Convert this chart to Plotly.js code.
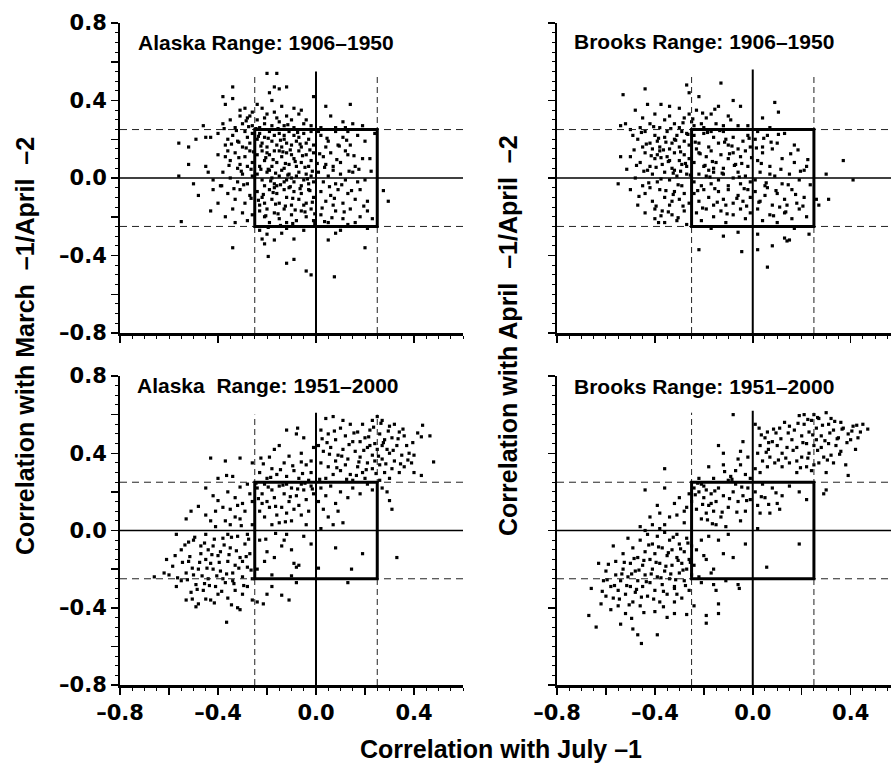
<!DOCTYPE html>
<html>
<head>
<meta charset="utf-8">
<script src="https://cdn.plot.ly/plotly-3.0.1.min.js"></script>
<style>html,body{margin:0;padding:0;background:#fff;}#chart{width:891px;height:765px;}</style>
</head>
<body>
<div id="chart"></div>
<script>
// ---------- DATA ----------
const panelTitles = ['Alaska Range: 1906–1950', 'Brooks Range: 1906–1950', 'Alaska  Range: 1951–2000', 'Brooks Range: 1951–2000'];
const xAxisTitle = 'Correlation with July –1';
const yTitleLeft = 'Correlation with March  –1/April  –2';
const yTitleRight = 'Correlation with April  –1/April  –2';
const yTickVals = [-0.8, -0.6, -0.4, -0.2, 0, 0.2, 0.4, 0.6, 0.8];
const yTickText = ['–0.8', '', '–0.4', '', '0.0', '', '0.4', '', '0.8'];
const xTickVals = [-0.8, -0.6, -0.4, -0.2, 0, 0.2, 0.4];
const xTickText = ['–0.8', '', '–0.4', '', '0.0', '', '0.4'];

const alaska1906 = [
[-0.20,0.54],[-0.16,0.54],[-0.34,0.47],[-0.17,0.47],[-0.15,0.46],[-0.12,0.47],[-0.19,0.44],
[-0.01,0.42],[-0.38,0.42],[-0.34,0.41],[0.14,0.38],[0.04,0.37],[-0.37,0.38],[-0.29,0.36],[-0.18,0.40],[-0.14,0.37],[-0.09,0.36],[-0.24,0.38],[-0.31,0.35],[-0.22,0.36],[-0.06,0.35],
[-0.26,0.34],[-0.20,0.33],[-0.31,0.32],[-0.17,0.34],[-0.07,0.33],[0.06,0.32],[-0.35,0.30],[-0.28,0.31],[-0.12,0.32],[-0.04,0.30],[0.11,0.29],[-0.24,0.30],[-0.21,0.31],[-0.15,0.29],[-0.10,0.30],[-0.30,0.28],[-0.26,0.27],[-0.21,0.28],[-0.05,0.28],[0.15,0.28],[0.19,0.27],[-0.46,0.27],[-0.33,0.26],[-0.18,0.27],[-0.13,0.27],[0.02,0.26],[0.08,0.26],[-0.09,0.26],[-0.02,0.27],[0.12,0.26],[-0.38,0.28],[-0.23,0.26],[-0.16,0.31],[-0.27,0.32],
[-0.56,0.18],[-0.52,0.16],[-0.49,0.20],[-0.45,0.21],[-0.43,0.21],[-0.40,0.23],[-0.37,0.17],[-0.34,0.22],[-0.32,0.19],[-0.30,0.16],[-0.28,0.21],[-0.27,0.18],[-0.36,0.20],[-0.29,0.24],[-0.26,0.23],
[-0.23,0.23],[-0.21,0.21],[-0.19,0.24],[-0.17,0.22],[-0.15,0.23],[-0.13,0.20],[-0.11,0.24],[-0.09,0.22],[-0.07,0.21],[-0.05,0.23],[-0.03,0.20],[-0.02,0.24],[-0.22,0.18],[-0.20,0.16],[-0.18,0.19],[-0.16,0.17],[-0.14,0.16],[-0.12,0.18],[-0.10,0.17],[-0.08,0.19],[-0.06,0.16],[-0.04,0.18],[-0.01,0.17],[-0.24,0.20],[-0.13,0.22],
[0.02,0.22],[0.05,0.19],[0.08,0.24],[0.11,0.21],[0.14,0.17],[0.17,0.22],[0.20,0.19],[0.04,0.16],[0.09,0.17],[0.01,0.24],[0.13,0.24],[0.24,0.23],
[-0.52,0.07],[-0.45,0.06],[-0.40,0.12],[-0.37,0.11],[-0.35,0.09],[-0.33,0.13],[-0.31,0.07],[-0.29,0.11],[-0.27,0.14],[-0.26,0.08],[-0.32,0.05],[-0.28,0.06],[-0.36,0.14],
[-0.24,0.12],[-0.22,0.14],[-0.21,0.09],[-0.19,0.12],[-0.17,0.14],[-0.16,0.08],[-0.14,0.11],[-0.12,0.13],[-0.11,0.07],[-0.09,0.10],[-0.07,0.14],[-0.06,0.08],[-0.04,0.12],[-0.02,0.09],[-0.01,0.13],[-0.23,0.06],[-0.18,0.06],[-0.13,0.05],[-0.08,0.06],[-0.03,0.06],[-0.20,0.13],[-0.15,0.14],[-0.10,0.12],
[0.03,0.11],[0.06,0.13],[0.10,0.08],[0.13,0.12],[0.16,0.06],[0.19,0.10],[0.22,0.10],[0.07,0.06],[0.04,0.07],[0.12,0.14],
[-0.56,0.01],[-0.50,-0.03],[-0.42,-0.01],[-0.38,0.03],[-0.35,0.00],[-0.32,-0.02],[-0.30,0.02],[-0.28,-0.03],[-0.26,0.01],[-0.39,-0.04],[-0.44,0.03],
[-0.24,0.02],[-0.22,-0.01],[-0.20,0.03],[-0.18,0.00],[-0.17,-0.03],[-0.15,0.01],[-0.14,0.04],[-0.12,-0.01],[-0.11,0.02],[-0.09,-0.02],[-0.08,0.01],[-0.07,0.03],[-0.05,-0.01],[-0.04,0.02],[-0.03,-0.03],[-0.02,0.01],[-0.01,-0.02],[-0.21,-0.04],[-0.16,-0.04],[-0.13,-0.02],[-0.10,0.00],[-0.06,-0.04],[-0.19,0.04],
[0.01,0.03],[0.03,-0.02],[0.05,0.01],[0.08,-0.03],[0.10,0.02],[0.12,-0.01],[0.15,0.03],[0.17,-0.02],[0.20,-0.01],[0.07,0.04],[0.275,-0.065],
[-0.48,-0.09],[-0.42,-0.06],[-0.385,-0.04],[-0.36,-0.08],[-0.33,-0.11],[-0.31,-0.06],[-0.29,-0.13],[-0.27,-0.09],[-0.40,-0.13],
[-0.24,-0.07],[-0.22,-0.10],[-0.21,-0.13],[-0.19,-0.06],[-0.18,-0.11],[-0.16,-0.08],[-0.15,-0.13],[-0.13,-0.06],[-0.12,-0.10],[-0.10,-0.14],[-0.09,-0.07],[-0.07,-0.11],[-0.06,-0.08],[-0.04,-0.13],[-0.03,-0.06],[-0.01,-0.10],[-0.23,-0.14],[-0.17,-0.05],[-0.11,-0.05],[-0.05,-0.14],
[0.02,-0.07],[0.04,-0.12],[0.06,-0.09],[0.09,-0.06],[0.11,-0.13],[0.13,-0.08],[0.16,-0.11],[0.18,-0.06],[0.21,-0.12],[0.07,-0.14],[0.295,-0.12],
[-0.43,-0.17],[-0.55,-0.225],[-0.37,-0.20],[-0.34,-0.16],[-0.30,-0.18],[-0.28,-0.22],[-0.26,-0.19],[-0.33,-0.23],
[-0.23,-0.17],[-0.21,-0.20],[-0.19,-0.23],[-0.17,-0.18],[-0.15,-0.21],[-0.13,-0.16],[-0.12,-0.23],[-0.10,-0.19],[-0.08,-0.22],[-0.06,-0.17],[-0.04,-0.20],[-0.02,-0.16],[-0.01,-0.22],[-0.20,-0.16],
[0.02,-0.19],[0.05,-0.23],[0.08,-0.17],[0.11,-0.21],[0.14,-0.16],[0.16,-0.23],[0.18,-0.20],[0.21,-0.17],[0.23,-0.21],[0.13,-0.24],
[-0.23,-0.27],[-0.20,-0.29],[-0.17,-0.32],[-0.21,-0.34],[-0.22,-0.315],[-0.14,-0.285],[-0.09,-0.315],[0.05,-0.32],[0.08,-0.285],[-0.34,-0.36],[-0.195,-0.405],[-0.12,-0.44],[-0.09,-0.42],[-0.04,-0.48],[-0.02,-0.50],[0.075,-0.51],[0.20,-0.36],[-0.12,-0.26],[0.21,-0.26],[-0.05,-0.27],[0.10,-0.27],
[-0.235,0.215],[-0.225,0.165],[-0.205,0.105],[-0.195,0.045],[-0.185,-0.015],[-0.175,-0.075],[-0.165,-0.135],[-0.155,-0.185],[-0.145,0.195],[-0.135,0.135],[-0.125,0.075],[-0.115,0.015],[-0.105,-0.045],[-0.095,-0.105],[-0.085,-0.165],[-0.075,0.235],[-0.065,0.175],[-0.055,0.115],[-0.045,0.055],[-0.035,-0.005],[-0.025,-0.065],[-0.015,-0.125],[-0.005,-0.185],[-0.225,0.045],[-0.215,-0.085],[-0.205,-0.195],[-0.195,0.205],[-0.175,0.095],[-0.165,0.025],[-0.145,-0.035],[-0.125,-0.145],[-0.105,0.145],[-0.085,0.085],[-0.065,-0.055],[-0.045,-0.175],[-0.025,0.145],[-0.015,0.035],[-0.235,-0.115],[-0.155,0.255],[-0.115,0.275],
[-0.345,0.175],[-0.325,0.245],[-0.315,0.105],[-0.305,0.035],[-0.295,-0.035],[-0.285,0.155],[-0.275,0.265],[-0.265,-0.105],[-0.335,-0.055],[-0.355,0.065],[-0.375,0.255],[-0.255,0.135],[-0.265,0.045],[-0.285,0.295],[-0.315,0.185],
[0.015,0.125],[0.035,0.055],[0.055,-0.045],[0.075,-0.105],[0.095,0.165],[0.115,-0.175],[0.135,0.035],[0.155,0.115],[0.025,-0.155],[0.045,0.205],[0.065,-0.205],[0.085,0.095],[0.105,-0.035],[0.125,0.195],[0.145,-0.065],[0.175,0.045],[0.195,-0.145],[0.225,0.035],[0.035,-0.225],[0.005,0.075],[-0.005,-0.235],[-0.095,-0.235],[-0.145,-0.245],[-0.195,-0.255],[-0.245,0.255]
];

const brooks1906 = [
[-0.53,0.43],[-0.44,0.46],[-0.27,0.48],[-0.13,0.49],[-0.26,0.44],[-0.22,0.42],[-0.43,0.38],[-0.375,0.38],[-0.34,0.37],[-0.30,0.36],[-0.14,0.37],[-0.08,0.40],[-0.05,0.37],[0.09,0.39],[0.105,0.34],[0.04,0.31],[-0.23,0.35],[-0.19,0.31],[-0.10,0.32],[-0.09,0.30],[-0.48,0.35],[-0.45,0.31],[-0.54,0.27],[-0.52,0.28],[-0.40,0.33],[-0.36,0.30],[-0.32,0.28],[-0.28,0.31],[-0.25,0.29],[-0.21,0.28],[-0.17,0.33],[-0.15,0.28],[-0.12,0.27],[-0.06,0.27],[-0.42,0.28],[-0.38,0.26],[-0.30,0.26],[-0.26,0.33],[-0.20,0.26],[-0.02,0.27],[0.07,0.26],[-0.34,0.32],[-0.24,0.27],[-0.46,0.26],[-0.50,0.25],
[-0.49,0.22],[-0.47,0.20],[-0.44,0.24],[-0.42,0.18],[-0.40,0.22],[-0.38,0.16],[-0.36,0.21],[-0.35,0.24],[-0.33,0.18],[-0.31,0.22],[-0.30,0.16],[-0.28,0.19],[-0.27,0.23],[-0.26,0.17],[-0.45,0.16],[-0.41,0.15],[-0.34,0.15],[-0.29,0.24],[-0.39,0.19],[-0.32,0.20],
[-0.24,0.22],[-0.22,0.18],[-0.20,0.23],[-0.18,0.16],[-0.16,0.21],[-0.14,0.18],[-0.12,0.24],[-0.10,0.17],[-0.08,0.21],[-0.06,0.15],[-0.04,0.19],[-0.02,0.22],[-0.01,0.16],[-0.23,0.15],[-0.17,0.24],[-0.11,0.20],
[0.01,0.20],[0.04,0.16],[0.06,0.22],[0.10,0.18],[0.13,0.23],[0.17,0.17],[0.02,0.24],[0.08,0.15],
[-0.54,0.11],[-0.50,0.11],[-0.46,0.08],[-0.44,0.13],[-0.42,0.06],[-0.40,0.10],[-0.38,0.14],[-0.37,0.07],[-0.35,0.11],[-0.33,0.05],[-0.32,0.13],[-0.30,0.09],[-0.28,0.12],[-0.27,0.06],[-0.26,0.10],[-0.39,0.12],[-0.34,0.09],[-0.29,0.07],
[-0.24,0.08],[-0.22,0.13],[-0.20,0.06],[-0.19,0.11],[-0.17,0.14],[-0.15,0.08],[-0.13,0.12],[-0.12,0.05],[-0.10,0.10],[-0.08,0.13],[-0.07,0.07],[-0.05,0.11],[-0.03,0.14],[-0.02,0.06],[-0.16,0.05],
[0.02,0.09],[0.04,0.13],[0.07,0.06],[0.12,0.10],[0.17,0.08],[0.22,0.06],[0.21,0.04],[0.37,0.09],
[-0.55,-0.03],[-0.48,0.00],[-0.45,-0.04],[-0.41,0.02],[-0.39,-0.02],[-0.36,0.03],[-0.34,-0.01],[-0.31,0.01],[-0.29,-0.04],[-0.27,0.02],[-0.43,0.04],[-0.32,0.04],
[-0.24,-0.02],[-0.22,0.02],[-0.21,-0.04],[-0.19,0.01],[-0.17,-0.03],[-0.16,0.03],[-0.14,-0.01],[-0.12,0.02],[-0.10,-0.04],[-0.08,0.00],[-0.06,0.03],[-0.05,-0.03],[-0.03,0.01],[-0.01,-0.02],[-0.18,0.04],
[0.01,-0.01],[0.03,0.03],[0.05,-0.04],[0.09,0.01],[0.12,-0.03],[0.15,0.02],[0.19,-0.01],[0.07,0.02],[0.30,0.02],[0.41,-0.01],
[-0.50,-0.06],[-0.47,-0.14],[-0.44,-0.08],[-0.41,-0.12],[-0.38,-0.06],[-0.36,-0.10],[-0.34,-0.14],[-0.32,-0.07],[-0.30,-0.11],[-0.28,-0.08],[-0.26,-0.13],[-0.42,-0.05],[-0.33,-0.12],
[-0.24,-0.08],[-0.22,-0.12],[-0.20,-0.06],[-0.18,-0.10],[-0.16,-0.14],[-0.14,-0.07],[-0.12,-0.11],[-0.10,-0.06],[-0.08,-0.13],[-0.06,-0.09],[-0.04,-0.12],[-0.02,-0.06],[-0.01,-0.10],[-0.11,-0.14],
[0.01,-0.07],[0.03,-0.12],[0.05,-0.09],[0.08,-0.14],[0.10,-0.08],[0.13,-0.11],[0.16,-0.06],[0.18,-0.13],[0.21,-0.10],[0.06,-0.05],[0.14,-0.14],[0.26,-0.11],[0.31,-0.11],[0.27,-0.14],
[-0.44,-0.18],[-0.40,-0.21],[-0.385,-0.23],[-0.36,-0.23],[-0.37,-0.17],[-0.33,-0.19],[-0.31,-0.22],[-0.28,-0.17],[-0.27,-0.24],[-0.40,-0.16],
[-0.23,-0.18],[-0.21,-0.22],[-0.19,-0.16],[-0.16,-0.20],[-0.13,-0.17],[-0.11,-0.23],[-0.08,-0.19],[-0.05,-0.16],[-0.03,-0.21],[-0.01,-0.18],
[0.02,-0.16],[0.04,-0.22],[0.07,-0.19],[0.10,-0.23],[0.13,-0.18],[0.16,-0.21],[0.19,-0.16],[0.22,-0.20],[0.11,-0.15],
[-0.12,-0.30],[-0.06,-0.28],[-0.22,-0.37],[-0.045,-0.38],[0.02,-0.37],[0.08,-0.35],[0.13,-0.31],[0.14,-0.325],[0.15,-0.32],[0.06,-0.46],[0.23,-0.29],[0.02,-0.29],[0.17,-0.26],[-0.17,-0.26],
[-0.455,0.235],[-0.435,0.175],[-0.415,0.115],[-0.395,0.055],[-0.375,-0.005],[-0.355,-0.065],[-0.335,0.255],[-0.315,0.195],[-0.295,0.135],[-0.275,0.075],[-0.255,0.015],[-0.445,0.035],[-0.425,-0.025],[-0.405,0.265],[-0.385,0.205],[-0.365,0.145],[-0.345,0.085],[-0.325,0.025],[-0.305,-0.035],[-0.285,0.285],[-0.265,0.225],[-0.355,0.185],[-0.375,0.105],[-0.325,-0.085],[-0.295,0.035],[-0.485,0.145],[-0.475,0.065],[-0.395,-0.145],[-0.345,-0.175],[-0.285,-0.145],
[-0.235,0.185],[-0.215,0.125],[-0.195,0.065],[-0.175,0.005],[-0.155,-0.055],[-0.135,0.245],[-0.115,0.185],[-0.095,0.125],[-0.075,0.065],[-0.055,0.005],[-0.035,-0.055],[-0.015,0.205],[-0.225,-0.065],[-0.205,-0.155],[-0.185,0.235],[-0.165,0.085],[-0.145,-0.125],[-0.125,0.025],[-0.105,-0.185],[-0.085,0.165],[-0.065,-0.105],[-0.045,0.075],[-0.025,-0.145],[-0.005,0.105],[-0.245,0.305],[-0.205,0.335],[-0.155,0.355],
[0.015,0.155],[0.035,0.075],[0.055,-0.025],[0.075,0.185],[0.095,-0.065],[0.115,0.045],[0.135,-0.175],[0.155,0.125],[0.175,-0.085],[0.195,0.035],[0.025,-0.125],[0.045,0.205],[0.085,-0.195],[0.105,0.225],[0.145,-0.035],[0.185,0.145],[0.205,-0.145],[0.225,0.095],[0.235,-0.035],[-0.465,-0.095],[-0.515,0.045],[-0.375,-0.195],[-0.305,-0.205]
];

const alaska1951 = [
[0.04,0.58],[0.07,0.59],[0.11,0.57],[0.10,0.53],[0.14,0.55],[0.19,0.55],[0.23,0.57],[0.25,0.59],[0.27,0.57],[0.30,0.54],[0.32,0.55],[0.34,0.51],[0.36,0.49],[0.435,0.545],[0.43,0.485],[0.465,0.49],[0.48,0.355],[0.40,0.39],[0.38,0.40],[0.43,0.285],[0.40,0.30],[0.36,0.33],
[0.02,0.52],[0.05,0.50],[0.08,0.47],[0.12,0.49],[0.15,0.46],[0.17,0.51],[0.20,0.48],[0.22,0.52],[0.24,0.45],[0.26,0.50],[0.28,0.47],[0.31,0.48],[0.33,0.44],[0.29,0.42],[0.01,0.44],[0.03,0.41],[0.06,0.43],[0.09,0.39],[0.11,0.42],[0.13,0.37],[0.16,0.41],[0.18,0.38],[0.21,0.43],[0.23,0.39],[0.25,0.42],[0.27,0.37],[0.30,0.40],[0.32,0.36],[0.35,0.39],[0.34,0.30],
[0.02,0.35],[0.05,0.33],[0.08,0.36],[0.10,0.31],[0.12,0.34],[0.14,0.29],[0.17,0.33],[0.19,0.30],[0.21,0.35],[0.23,0.32],[0.26,0.34],[0.28,0.30],[0.30,0.27],[0.04,0.27],[0.07,0.29],[0.15,0.26],[0.20,0.27],[0.26,0.26],[0.31,0.32],[0.37,0.44],[0.39,0.35],[0.22,0.44],[0.18,0.46],[0.27,0.44],[0.24,0.36],
[0.30,0.155],[0.31,0.11],[0.33,-0.14],[0.27,0.22],[0.29,0.20],
[-0.075,0.53],[-0.12,0.52],[-0.08,0.50],[-0.05,0.48],[-0.15,0.44],[-0.17,0.42],[-0.06,0.40],[-0.11,0.385],[-0.19,0.38],[-0.225,0.375],[-0.26,0.35],[-0.06,0.355],[-0.04,0.34],[-0.13,0.35],[-0.09,0.31],[-0.02,0.30],[-0.16,0.29],[-0.20,0.27],[-0.12,0.28],[-0.07,0.27],[-0.03,0.26],[-0.23,0.30],[-0.18,0.32],[-0.01,0.43],[-0.02,0.36],
[-0.43,0.375],[-0.37,0.36],[-0.31,0.375],[-0.365,0.285],[-0.34,0.28],[-0.40,0.27],[-0.31,0.225],[-0.28,0.24],[-0.42,0.18],[-0.40,0.155],[-0.36,0.20],[-0.33,0.17],[-0.30,0.14],[-0.27,0.19],[-0.38,0.12],[-0.35,0.11],[-0.32,0.13],[-0.29,0.10],[-0.26,0.15],[-0.41,0.10],[-0.45,0.22],[-0.48,0.125],[-0.51,0.10],[-0.53,0.06],[-0.45,0.08],[-0.43,0.05],
[-0.24,0.22],[-0.22,0.19],[-0.21,0.24],[-0.20,0.15],[-0.18,0.21],[-0.17,0.17],[-0.15,0.23],[-0.14,0.12],[-0.13,0.19],[-0.11,0.15],[-0.10,0.22],[-0.08,0.18],[-0.07,0.13],[-0.05,0.21],[-0.04,0.16],[-0.02,0.23],[-0.01,0.19],[-0.23,0.10],[-0.21,0.07],[-0.19,0.12],[-0.16,0.08],[-0.15,0.04],[-0.12,0.09],[-0.10,0.05],[-0.09,0.11],[-0.06,0.08],[-0.04,0.03],[-0.03,0.10],[-0.18,0.03],[-0.22,0.14],[-0.12,0.24],[-0.06,0.24],
[0.02,0.22],[0.04,0.18],[0.06,0.23],[0.08,0.14],[0.10,0.20],[0.13,0.17],[0.15,0.22],[0.18,0.19],[0.21,0.24],[0.03,0.11],[0.05,0.07],[0.07,0.03],[0.02,0.01],[0.11,0.04],[0.09,0.10],[0.23,0.21],[0.01,0.15],
[-0.23,-0.05],[-0.20,-0.11],[-0.21,-0.16],[-0.17,-0.14],[-0.14,-0.08],[-0.12,-0.02],[-0.10,-0.10],[-0.08,-0.19],[-0.09,-0.17],[-0.07,-0.18],[-0.13,-0.05],[-0.24,-0.20],[-0.18,-0.23],[-0.05,-0.03],[-0.02,-0.07],
[0.08,-0.09],[0.01,-0.195],[0.145,-0.20],[0.19,-0.12],[0.13,-0.27],
[-0.57,-0.02],[-0.575,-0.13],[-0.61,-0.15],[-0.62,-0.22],[-0.66,-0.24],[-0.60,-0.23],[-0.57,-0.29],[-0.53,-0.36],[-0.49,-0.395],[-0.48,-0.38],[-0.45,-0.355],[-0.365,-0.475],[-0.36,-0.35],[-0.32,-0.40],[-0.31,-0.41],[-0.28,-0.29],[-0.26,-0.36],
[-0.55,-0.10],[-0.52,-0.16],[-0.53,-0.22],[-0.50,-0.05],[-0.48,-0.20],[-0.47,-0.12],[-0.45,-0.02],[-0.44,-0.25],[-0.43,-0.17],[-0.42,-0.08],[-0.41,-0.29],[-0.40,-0.13],[-0.39,-0.21],[-0.38,-0.04],[-0.37,-0.27],[-0.36,-0.16],[-0.35,-0.09],[-0.34,-0.22],[-0.33,-0.31],[-0.32,-0.03],[-0.31,-0.14],[-0.30,-0.24],[-0.29,-0.07],[-0.28,-0.19],[-0.27,-0.12],[-0.26,-0.25],
[-0.49,-0.28],[-0.51,-0.32],[-0.46,-0.31],[-0.43,-0.36],[-0.40,-0.33],[-0.55,-0.26],[-0.50,-0.23],[-0.47,-0.08],[-0.42,-0.20],[-0.39,-0.11],[-0.36,-0.02],[-0.33,-0.18],[-0.30,-0.33],[-0.41,0.02],[-0.45,-0.15],[-0.38,-0.25],[-0.35,0.03],[-0.28,-0.02],[-0.33,0.07],[-0.37,0.05],[-0.26,0.03],[-0.52,-0.06],[-0.44,-0.10],[-0.34,-0.26],[-0.30,-0.16],[-0.31,0.06],
[-0.20,-0.33],[-0.215,-0.38],[-0.14,-0.335],[-0.11,-0.36],[-0.10,-0.235],[-0.24,-0.37],[-0.08,-0.27],[-0.18,-0.29],
[-0.545,-0.165],[-0.535,-0.075],[-0.525,-0.255],[-0.515,-0.135],[-0.505,-0.195],[-0.495,-0.035],[-0.485,-0.305],[-0.475,-0.165],[-0.465,-0.235],[-0.455,-0.065],[-0.445,-0.195],[-0.435,-0.285],[-0.425,-0.125],[-0.415,-0.045],[-0.405,-0.235],[-0.395,-0.165],[-0.385,-0.315],[-0.375,-0.075],[-0.365,-0.225],[-0.355,-0.125],[-0.345,-0.035],[-0.335,-0.275],[-0.325,-0.105],[-0.315,-0.195],[-0.305,0.025],[-0.295,-0.285],[-0.285,-0.135],[-0.275,-0.045],[-0.265,-0.205],[-0.455,-0.275],[-0.505,-0.355],[-0.415,-0.375],[-0.345,-0.385],[-0.585,-0.185],[-0.565,-0.245],
[0.045,0.455],[0.075,0.515],[0.105,0.385],[0.135,0.445],[0.155,0.505],[0.175,0.355],[0.195,0.415],[0.215,0.485],[0.235,0.535],[0.255,0.385],[0.275,0.455],[0.295,0.515],[0.315,0.415],[0.335,0.475],[0.355,0.525],[0.375,0.365],[0.395,0.455],[0.415,0.505],[0.285,0.345],[0.245,0.295],[0.205,0.315],[0.165,0.285],[0.125,0.265],[0.085,0.325],[0.055,0.395],[0.025,0.475],[0.345,0.345],[0.265,0.555],
[-0.235,0.165],[-0.195,0.225],[-0.165,0.125],[-0.135,0.235],[-0.105,0.175],[-0.075,0.215],[-0.045,0.245],[-0.015,0.215],[0.015,0.265],[-0.055,0.295],[-0.095,0.335],[-0.145,0.315],[-0.185,0.275],[-0.215,0.345],[-0.245,0.245],[-0.125,0.045],[-0.165,-0.015],[-0.205,-0.045]
];

const brooks1951 = [
[-0.08,0.60],[0.30,0.61],[0.25,0.60],[0.19,0.595],[0.27,0.58],[0.24,0.57],[0.47,0.525],[0.45,0.55],[0.41,0.54],[0.43,0.48],[0.42,0.42],[0.38,0.34],[0.39,0.285],[0.29,0.19],[0.30,0.21],[0.095,0.505],[0.11,0.53],[0.15,0.54],[0.026,0.53],[0.01,0.55],[0.05,0.48],[0.064,0.42],[0.10,0.44],[0.15,0.35],[0.18,0.36],[0.25,0.34],
[0.13,0.56],[0.17,0.52],[0.21,0.55],[0.23,0.51],[0.26,0.53],[0.28,0.49],[0.31,0.55],[0.33,0.52],[0.35,0.48],[0.37,0.53],[0.39,0.50],[0.34,0.44],[0.36,0.41],[0.31,0.45],[0.28,0.43],[0.26,0.47],[0.22,0.45],[0.20,0.49],[0.18,0.43],[0.16,0.47],[0.12,0.40],[0.08,0.46],[0.07,0.38],[0.03,0.44],[0.04,0.36],[0.02,0.40],[0.09,0.35],[0.12,0.33],[0.14,0.43],[0.20,0.38],[0.23,0.40],[0.25,0.44],[0.29,0.38],[0.32,0.39],[0.27,0.35],[0.33,0.35],[0.22,0.33],[0.01,0.32],[0.03,0.30],[0.06,0.33],[0.18,0.30],[0.24,0.31],[0.30,0.30],[0.40,0.47],[0.44,0.51],[0.21,0.60],[0.06,0.51],[0.32,0.58],[0.36,0.56],
[-0.04,0.46],[-0.06,0.37],[-0.05,0.34],[-0.14,0.44],[-0.12,0.40],[-0.18,0.33],[-0.12,0.34],[-0.07,0.31],[-0.03,0.29],[-0.09,0.28],[-0.16,0.27],[-0.22,0.27],[-0.02,0.38],[-0.05,0.41],[-0.01,0.27],[-0.10,0.26],
[-0.36,0.32],[-0.36,0.22],[-0.44,0.21],[-0.32,0.14],[-0.27,0.12],[-0.28,0.10],[-0.38,0.09],[-0.42,0.07],[-0.46,0.02],[-0.30,0.17],[-0.26,0.19],[-0.34,0.07],[-0.39,0.13],[-0.25,0.15],[-0.28,0.04],[-0.31,0.08],[-0.36,0.03],[-0.41,0.03],
[-0.24,0.22],[-0.22,0.20],[-0.21,0.24],[-0.20,0.17],[-0.19,0.21],[-0.18,0.13],[-0.17,0.19],[-0.16,0.10],[-0.15,0.15],[-0.14,0.22],[-0.13,0.07],[-0.12,0.18],[-0.10,0.12],[-0.08,0.20],[-0.06,0.15],[-0.05,0.05],[-0.03,0.10],[-0.02,0.22],[-0.01,0.16],[-0.23,0.11],[-0.21,0.06],[-0.19,0.09],[-0.15,0.03],[-0.11,0.02],[-0.07,0.24],[-0.04,0.18],[-0.20,0.23],[-0.17,0.14],
[0.01,0.20],[0.02,0.13],[0.03,0.09],[0.05,0.17],[0.07,0.09],[0.08,0.22],[0.10,0.14],[0.11,0.11],[0.12,0.18],[0.15,0.23],[0.19,0.20],[0.22,0.16],[0.04,0.24],[0.02,0.01],
[-0.21,-0.05],[-0.20,-0.13],[-0.19,-0.15],[-0.16,-0.20],[-0.12,-0.12],[-0.08,-0.14],[-0.03,-0.07],[-0.18,-0.03],[-0.14,-0.05],[-0.23,-0.10],[-0.10,-0.02],[-0.24,-0.18],[-0.17,-0.22],[-0.22,-0.24],
[0.057,-0.19],[0.19,-0.07],
[-0.67,-0.44],[-0.64,-0.50],[-0.66,-0.30],[-0.63,-0.17],[-0.59,-0.175],[-0.60,-0.34],[-0.54,-0.485],[-0.49,-0.51],[-0.47,-0.54],[-0.455,-0.585],[-0.39,-0.54],[-0.35,-0.45],[-0.32,-0.43],[-0.27,-0.435],[-0.24,-0.39],
[-0.62,-0.38],[-0.61,-0.26],[-0.60,-0.21],[-0.58,-0.29],[-0.58,-0.41],[-0.57,-0.35],[-0.56,-0.23],[-0.56,-0.16],[-0.55,-0.31],[-0.55,-0.39],[-0.54,-0.26],[-0.53,-0.20],[-0.53,-0.12],[-0.52,-0.33],[-0.52,-0.43],[-0.51,-0.24],[-0.50,-0.17],[-0.50,-0.29],[-0.49,-0.37],[-0.49,-0.09],[-0.48,-0.21],[-0.48,-0.32],[-0.47,-0.14],[-0.47,-0.26],[-0.46,-0.05],[-0.46,-0.39],[-0.45,-0.18],[-0.45,-0.29],[-0.44,-0.11],[-0.44,-0.23],[-0.43,-0.34],[-0.43,-0.02],[-0.42,-0.15],[-0.42,-0.27],[-0.41,-0.07],[-0.41,-0.20],[-0.40,-0.31],[-0.40,-0.12],[-0.39,-0.24],[-0.39,-0.03],[-0.38,-0.17],[-0.38,-0.37],[-0.37,-0.09],[-0.37,-0.28],[-0.36,-0.21],[-0.36,-0.01],[-0.35,-0.13],[-0.35,-0.33],[-0.34,-0.05],[-0.34,-0.25],[-0.33,-0.18],[-0.33,-0.10],[-0.32,-0.29],[-0.31,-0.02],[-0.31,-0.14],[-0.30,-0.22],[-0.30,-0.07],[-0.29,-0.35],[-0.29,-0.17],[-0.28,-0.11],[-0.28,-0.26],[-0.27,-0.04],[-0.27,-0.20],[-0.26,-0.15],[-0.26,-0.31],[-0.25,-0.08],[-0.25,-0.23],[-0.44,0.00],[-0.51,-0.04],[-0.57,-0.08],[-0.38,0.01],[-0.32,-0.37],[-0.40,-0.42],
[-0.19,-0.44],[-0.19,-0.48],[-0.14,-0.38],[-0.14,-0.43],[-0.15,-0.31],[-0.06,-0.28],[-0.055,-0.30],[-0.16,-0.28],[-0.32,-0.30],[-0.31,-0.33],[-0.21,-0.27],[-0.11,-0.26],
[-0.565,-0.285],[-0.545,-0.355],[-0.535,-0.225],[-0.515,-0.285],[-0.505,-0.385],[-0.495,-0.225],[-0.485,-0.145],[-0.475,-0.305],[-0.465,-0.205],[-0.455,-0.345],[-0.445,-0.155],[-0.435,-0.265],[-0.425,-0.075],[-0.415,-0.225],[-0.405,-0.355],[-0.395,-0.165],[-0.385,-0.085],[-0.375,-0.245],[-0.365,-0.315],[-0.355,-0.185],[-0.345,-0.115],[-0.335,-0.225],[-0.325,-0.035],[-0.315,-0.255],[-0.305,-0.155],[-0.295,-0.095],[-0.285,-0.205],[-0.275,-0.285],[-0.265,-0.065],[-0.255,-0.165],[-0.595,-0.255],[-0.615,-0.315],[-0.525,-0.165],[-0.445,-0.425],[-0.365,-0.395],[-0.495,-0.455],
[0.035,0.495],[0.065,0.455],[0.085,0.525],[0.115,0.475],[0.135,0.375],[0.145,0.505],[0.165,0.415],[0.185,0.555],[0.205,0.455],[0.225,0.575],[0.245,0.495],[0.265,0.415],[0.285,0.545],[0.295,0.465],[0.315,0.505],[0.335,0.565],[0.345,0.475],[0.365,0.525],[0.385,0.455],[0.405,0.515],[0.425,0.545],[0.265,0.585],[0.225,0.375],[0.195,0.325],[0.105,0.365],[0.055,0.405],[0.305,0.365],[0.355,0.395],
[-0.235,0.185],[-0.205,0.135],[-0.185,0.055],[-0.155,0.205],[-0.125,0.095],[-0.095,0.165],[-0.065,0.095],[-0.045,0.225],[-0.025,0.155],[-0.225,0.245],[-0.165,0.035],[0.035,0.175],[0.065,0.135],[0.095,0.195],[-0.085,0.265],[-0.115,0.305]
];

// ---------- LAYOUT / STYLE ----------
const W = 891, H = 765;
const colL = [120 / W, 463 / W], colR = [557 / W, 1];
const rowT = [1 - 333 / H, 1 - 23 / H], rowB = [1 - 685 / H, 1 - 376 / H];
const tickFont = { family: 'DejaVu Sans, Arial, sans-serif', size: 21, color: '#000', weight: 'bold' };
const minorTicks = { tickmode: 'linear', tick0: -0.8, dtick: 0.05, ticks: 'outside', ticklen: 3, tickwidth: 1, tickcolor: '#000' };

function xAxis(domain, anchor, range, labels) {
  return {
    domain, anchor, range, tickmode: 'array', tickvals: xTickVals,
    ticktext: xTickText.map(t => t ? '<b>' + t + '</b>' : ''),
    showticklabels: labels, ticks: 'outside', ticklen: 7, tickwidth: 1.5, tickcolor: '#000',
    showline: true, linewidth: 2.5, linecolor: '#000', showgrid: false, zeroline: false,
    minor: minorTicks, tickfont: tickFont, fixedrange: true
  };
}
function yAxis(domain, anchor, labels) {
  return {
    domain, anchor, range: [-0.8, 0.8], tickmode: 'array', tickvals: yTickVals,
    ticktext: yTickText.map(t => t ? '<b>' + t + '</b>' : ''),
    showticklabels: labels, ticks: 'outside', ticklen: 7, tickwidth: 1.5, tickcolor: '#000',
    showline: true, linewidth: 2, linecolor: '#000', showgrid: false, zeroline: false,
    minor: minorTicks, tickfont: tickFont, fixedrange: true
  };
}

const panels = [
  { data: alaska1906, xa: 'x', ya: 'y', solidTop: 0.55, dashTop: 0.54 },
  { data: brooks1906, xa: 'x2', ya: 'y2', solidTop: 0.56, dashTop: 0.54 },
  { data: alaska1951, xa: 'x3', ya: 'y3', solidTop: 0.61, dashTop: 0.60 },
  { data: brooks1951, xa: 'x4', ya: 'y4', solidTop: 0.62, dashTop: 0.61 }
];

const traces = panels.map(p => ({
  type: 'scatter', mode: 'markers', xaxis: p.xa, yaxis: p.ya,
  x: p.data.map(d => d[0]), y: p.data.map(d => d[1]),
  marker: { symbol: 'square', size: 3.2, color: '#000', line: { width: 0 } },
  hoverinfo: 'skip', showlegend: false
}));

const shapes = [];
panels.forEach(p => {
  const xd = p.xa + ' domain';
  [0.25, -0.25].forEach(v => shapes.push({ type: 'line', xref: xd, yref: p.ya, x0: 0, x1: 1, y0: v, y1: v, line: { color: '#222', width: 1, dash: '7px,5px' } }));
  shapes.push({ type: 'line', xref: xd, yref: p.ya, x0: 0, x1: 1, y0: 0, y1: 0, line: { color: '#000', width: 1.5 } });
  [-0.25, 0.25].forEach(v => shapes.push({ type: 'line', xref: p.xa, yref: p.ya, x0: v, x1: v, y0: -0.8, y1: p.dashTop, line: { color: '#222', width: 1, dash: '6px,4px' } }));
  shapes.push({ type: 'line', xref: p.xa, yref: p.ya, x0: 0, x1: 0, y0: -0.8, y1: p.solidTop, line: { color: '#000', width: 2 } });
  shapes.push({ type: 'rect', xref: p.xa, yref: p.ya, x0: -0.25, x1: 0.25, y0: -0.25, y1: 0.25, line: { color: '#000', width: 3 }, fillcolor: 'rgba(0,0,0,0)' });
});

const txtFont = { family: 'Liberation Sans, Arial, sans-serif', size: 21, color: '#000' };
const titleFont = { family: 'Liberation Sans, Arial, sans-serif', size: 25, color: '#000' };
const annotations = [
  { text: '<b>' + panelTitles[0] + '</b>', xref: 'paper', yref: 'paper', x: 136 / W, y: 1 - 42 / H, xanchor: 'left', yanchor: 'middle', showarrow: false, font: txtFont },
  { text: '<b>' + panelTitles[1] + '</b>', xref: 'paper', yref: 'paper', x: 572 / W, y: 1 - 41 / H, xanchor: 'left', yanchor: 'middle', showarrow: false, font: txtFont },
  { text: '<b>' + panelTitles[2] + '</b>', xref: 'paper', yref: 'paper', x: 135 / W, y: 1 - 385 / H, xanchor: 'left', yanchor: 'middle', showarrow: false, font: txtFont },
  { text: '<b>' + panelTitles[3] + '</b>', xref: 'paper', yref: 'paper', x: 572 / W, y: 1 - 386 / H, xanchor: 'left', yanchor: 'middle', showarrow: false, font: txtFont },
  { text: '<b>' + xAxisTitle + '</b>', xref: 'paper', yref: 'paper', x: 501 / W, y: 1 - 749 / H, xanchor: 'center', yanchor: 'middle', showarrow: false, font: titleFont },
  { text: '<b>' + yTitleLeft + '</b>', xref: 'paper', yref: 'paper', x: 25 / W, y: 1 - 346 / H, xanchor: 'center', yanchor: 'middle', textangle: -90, showarrow: false, font: titleFont },
  { text: '<b>' + yTitleRight + '</b>', xref: 'paper', yref: 'paper', x: 508 / W, y: 1 - 335 / H, xanchor: 'center', yanchor: 'middle', textangle: -90, showarrow: false, font: titleFont }
];

const layout = {
  width: W, height: H, margin: { l: 0, r: 0, t: 0, b: 0, pad: 0 },
  paper_bgcolor: '#fff', plot_bgcolor: 'rgba(0,0,0,0)', showlegend: false,
  font: { family: 'Liberation Sans, Arial, sans-serif', color: '#000' },
  xaxis: xAxis(colL, 'y', [-0.8, 0.6], false),
  yaxis: yAxis(rowT, 'x', true),
  xaxis2: xAxis(colR, 'y2', [-0.8, 0.565], false),
  yaxis2: yAxis(rowT, 'x2', false),
  xaxis3: xAxis(colL, 'y3', [-0.8, 0.6], true),
  yaxis3: yAxis(rowB, 'x3', true),
  xaxis4: xAxis(colR, 'y4', [-0.8, 0.565], true),
  yaxis4: yAxis(rowB, 'x4', false),
  shapes, annotations
};

Plotly.newPlot('chart', traces, layout, { staticPlot: true, displayModeBar: false });
</script>
</body>
</html>
